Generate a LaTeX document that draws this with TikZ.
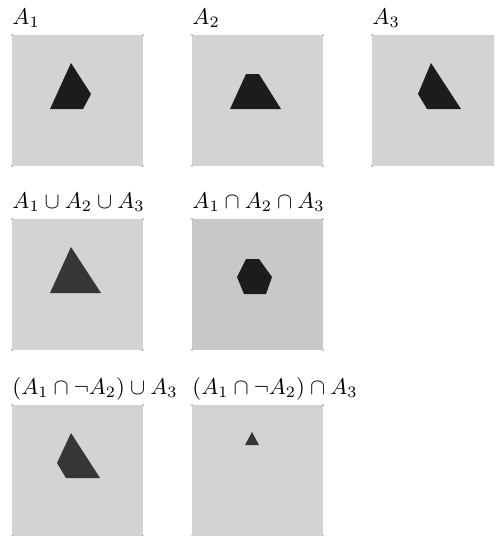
\documentclass[tikz,border=0pt]{standalone}
\usepackage{amsmath,amssymb}
\usepackage{xcolor}
\usepackage{tikz}

\definecolor{bgpanel}{HTML}{D3D3D3}
\definecolor{bgdark}{HTML}{C8C8C8}
\definecolor{shpdark}{HTML}{1C1C1C}
\definecolor{shpmid}{HTML}{363636}

\tikzset{
  lab/.style={anchor=base west, inner sep=0pt, font=\fontsize{9.7}{12}\selectfont},
  corner/.style={fill=gray!60},
}

\begin{document}
\begin{tikzpicture}[x=0.44pt,y=-0.44pt]
\path[use as bounding box, clip] (0,0) rectangle (494,536);
% Panels: corner x/y, background, name, label
\foreach \px/\py/\bg/\nm/\lab in {12/35/bgpanel/pa/{A_1}, 192/35/bgpanel/pb/{A_2}, 372/35/bgpanel/pc/{A_3},
  12/219/bgpanel/pd/{A_1\cup A_2\cup A_3}, 192/219/bgdark/pe/{A_1\cap A_2\cap A_3},
  12/405/bgpanel/pf/{(A_1\cap\neg A_2)\cup A_3}, 192/405/bgpanel/pg/{(A_1\cap\neg A_2)\cap A_3}} {
  \fill[\bg] (\px,\py) rectangle ++(131,131);
  \foreach \cx/\cy in {0/0, 131/0, 0/131, 131/131}
    \fill[corner] (\px+\cx,\py+\cy) circle (1.1);
  \node[lab] (\nm) at (\px,\py-10.5) {$\lab$};
}
% Row 0: A1, A2, A3
\fill[shpdark, shift={(12,35)}] (59,28) -- (79,59) -- (71,74) -- (38,74) -- cycle;
\fill[shpdark, shift={(192,35)}] (54,39) -- (67,39) -- (89,74) -- (38,74) -- cycle;
\fill[shpdark, shift={(372,35)}] (59,28) -- (89,74) -- (55,74) -- (46,59) -- cycle;
% Row 1: union, intersection
\fill[shpmid, shift={(12,219)}] (59,28) -- (89,74) -- (38,74) -- cycle;
\fill[shpdark, shift={(192,219)}] (54,40) -- (67,40) -- (80,58) -- (74,75) -- (52,75) -- (45,58) -- cycle;
% Row 2: mixed
\fill[shpmid, shift={(12,405)}] (59,28) -- (88,73) -- (54,73) -- (45,58) -- cycle;
\fill[shpmid, shift={(192,405)}] (60,27) -- (67,40) -- (53,40) -- cycle;
\end{tikzpicture}
\end{document}
